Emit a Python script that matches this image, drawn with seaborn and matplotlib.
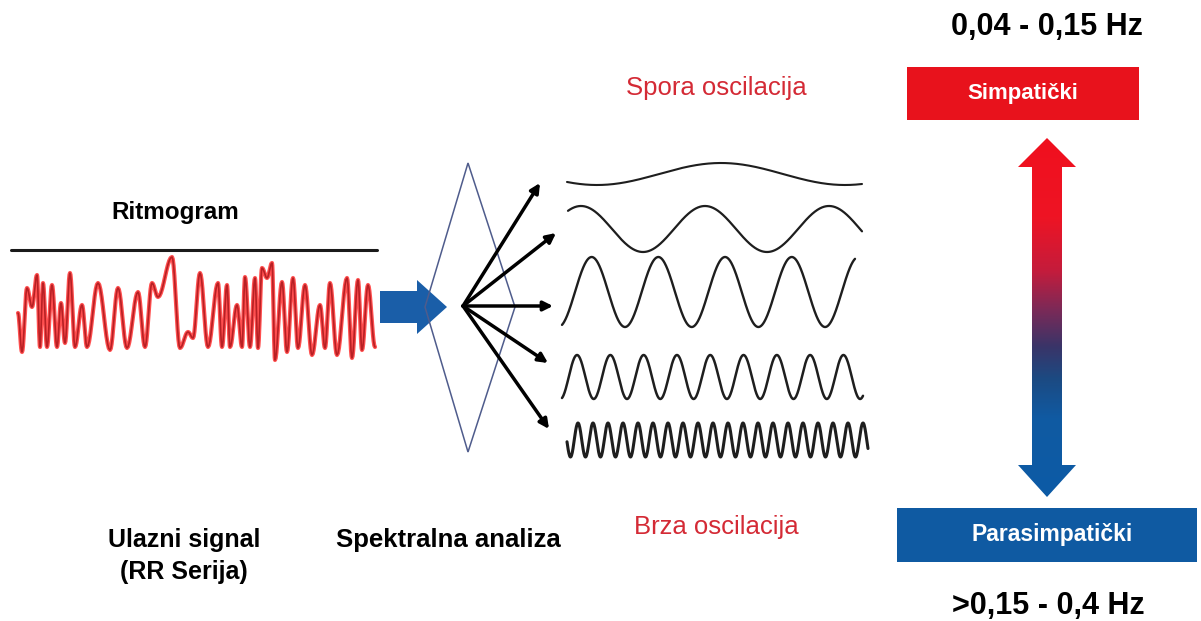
import numpy as np
import seaborn as sns
import matplotlib.pyplot as plt
from matplotlib.patches import Polygon, Rectangle, FancyArrow
from matplotlib.colors import LinearSegmentedColormap

# Ritmogram - vrhovi i doline (pikseli)
rr_x = [18, 22, 27, 32, 37, 40, 43, 47, 52, 57, 61, 65, 70, 75, 82, 87, 98, 110,
        118, 127, 138, 145, 152, 158, 172, 180, 188, 193, 200, 208, 218, 222, 227,
        230, 237, 242, 245, 250, 255, 258, 262, 267, 272, 275, 282, 287, 293, 298,
        305, 312, 320, 325, 330, 337, 347, 352, 358, 362, 368, 375]
rr_y = [313, 352, 288, 307, 275, 347, 283, 347, 285, 347, 303, 343, 273, 347,
        305, 347, 283, 350, 288, 348, 292, 347, 283, 297, 257, 348, 332, 338,
        273, 347, 283, 347, 285, 347, 305, 347, 277, 347, 278, 348, 268, 278,
        263, 360, 282, 352, 278, 348, 285, 355, 305, 348, 283, 355, 278, 358,
        280, 350, 285, 347]

# Oscilacije: od spore do brze
wave_x0 = [567, 568, 562, 562, 567]
wave_x1 = [862, 862, 855, 863, 868]
wave_center = [174, 229, 292, 377, 440]
wave_amp = [11, 23, 35, 22, 17]
wave_period = [248, 124, 66.7, 33.3, 15]
wave_trough = [597, 643, 625, 593.7, 585.5]
wave_lw = [1.5, 1.6, 1.7, 1.8, 2.2]

# Crne strelice - krajnje tacke
arrow_origin = (463, 306)
arrow_tips_x = [540, 556, 553, 548, 549]
arrow_tips_y = [183, 233, 306, 363, 429]

# gradijent strelice (udio visine, boja)
grad_pos = [0.0, 0.22, 0.37, 0.48, 0.58, 0.67, 0.78, 1.0]
grad_col = ['#f0101e', '#ee1424', '#c41c3c', '#7a2a58', '#3a3468',
            '#1c4a82', '#105aa2', '#0c5ba6']

sns.set_theme(style="white")
plt.rcParams['font.family'] = ['Liberation Sans', 'DejaVu Sans']
plt.rcParams['text.color'] = 'black'

fig = plt.figure(figsize=(12.01, 6.21), dpi=100)
ax = fig.add_axes([0, 0, 1, 1])

# Ritmogram linija (glatko izmedju ekstrema)
sx, sy = [], []
for i in range(len(rr_x) - 1):
    t = np.linspace(0, 1, 10, endpoint=False)
    sx.extend(rr_x[i] + (rr_x[i + 1] - rr_x[i]) * t)
    sy.extend(rr_y[i] + (rr_y[i + 1] - rr_y[i]) * (1 - np.cos(np.pi * t)) / 2)
sx.append(rr_x[-1])
sy.append(rr_y[-1])
sns.lineplot(x=sx, y=sy, sort=False, estimator=None, color='#ff5050', lw=3.0, ax=ax)
sns.lineplot(x=sx, y=sy, sort=False, estimator=None, color='#b82024', lw=1.2, ax=ax)
ax.plot([11, 377], [250, 250], color='#1a1a1a', lw=2.2)

ax.text(175, 212, "Ritmogram", ha='center', va='center', fontsize=17.5, fontweight='bold')

# plava strelica
ax.add_patch(FancyArrow(380, 307, 67, 0, width=32, head_width=54, head_length=30,
                        length_includes_head=True, color='#1a5ea8', lw=0))

# romb
ax.add_patch(Polygon([(468, 163), (515, 307), (468, 452), (425, 307)], closed=True,
                     fill=False, edgecolor='#4f5c8c', lw=1.1))

for tx, ty in zip(arrow_tips_x, arrow_tips_y):
    ax.annotate("", xy=(tx, ty), xytext=arrow_origin,
                arrowprops=dict(arrowstyle='-|>', color='black', lw=2.5,
                                mutation_scale=14, shrinkA=0, shrinkB=0))

# talasi
for x0, x1, c, a, p, tr, lw in zip(wave_x0, wave_x1, wave_center, wave_amp,
                                   wave_period, wave_trough, wave_lw):
    wx = np.linspace(x0, x1, 800)
    wy = c + a * np.cos(2 * np.pi * (wx - tr) / p)
    sns.lineplot(x=wx, y=wy, sort=False, estimator=None, color='#1e1e1e', lw=lw, ax=ax)

ax.text(716, 88, "Spora oscilacija", ha='center', va='center', fontsize=18.5, color='#d42a35')
ax.text(716, 527, "Brza oscilacija", ha='center', va='center', fontsize=18.5, color='#d42a35')

ax.text(184, 540, "Ulazni signal", ha='center', va='center', fontsize=18, fontweight='bold')
ax.text(184, 572, "(RR Serija)", ha='center', va='center', fontsize=18, fontweight='bold')
ax.text(448, 540, "Spektralna analiza", ha='center', va='center', fontsize=18.5, fontweight='bold')

# desna strana
ax.text(1047, 27, "0,04 - 0,15 Hz", ha='center', va='center', fontsize=22, fontweight='bold')
ax.add_patch(Rectangle((907, 67), 232, 53, color='#e8121c', lw=0))
ax.text(1023, 93, "Simpatički", ha='center', va='center', fontsize=16,
        fontweight='bold', color='white')
ax.add_patch(Rectangle((897, 508), 300, 54, color='#0f5aa2', lw=0))
ax.text(1052, 535, "Parasimpatički", ha='center', va='center', fontsize=16.5,
        fontweight='bold', color='white')
ax.text(1048, 606, ">0,15 - 0,4 Hz", ha='center', va='center', fontsize=22, fontweight='bold')

# dvostrana strelica s gradijentom
arrow_pts = [(1047, 138), (1076, 167), (1062, 167), (1062, 465), (1076, 465),
             (1047, 497), (1018, 465), (1032, 465), (1032, 167), (1018, 167)]
clip = Polygon(arrow_pts, closed=True, facecolor='none', edgecolor='none')
ax.add_patch(clip)
cmap = LinearSegmentedColormap.from_list("simpara", list(zip(grad_pos, grad_col)))
im = ax.imshow(np.linspace(0, 1, 256).reshape(-1, 1), cmap=cmap, aspect='auto',
               extent=(1016, 1078, 497, 138), origin='upper', interpolation='bilinear')
im.set_clip_path(clip)

ax.set_xlim(0, 1201)
ax.set_ylim(621, 0)
ax.axis('off')

plt.savefig("out.png", dpi=100)
